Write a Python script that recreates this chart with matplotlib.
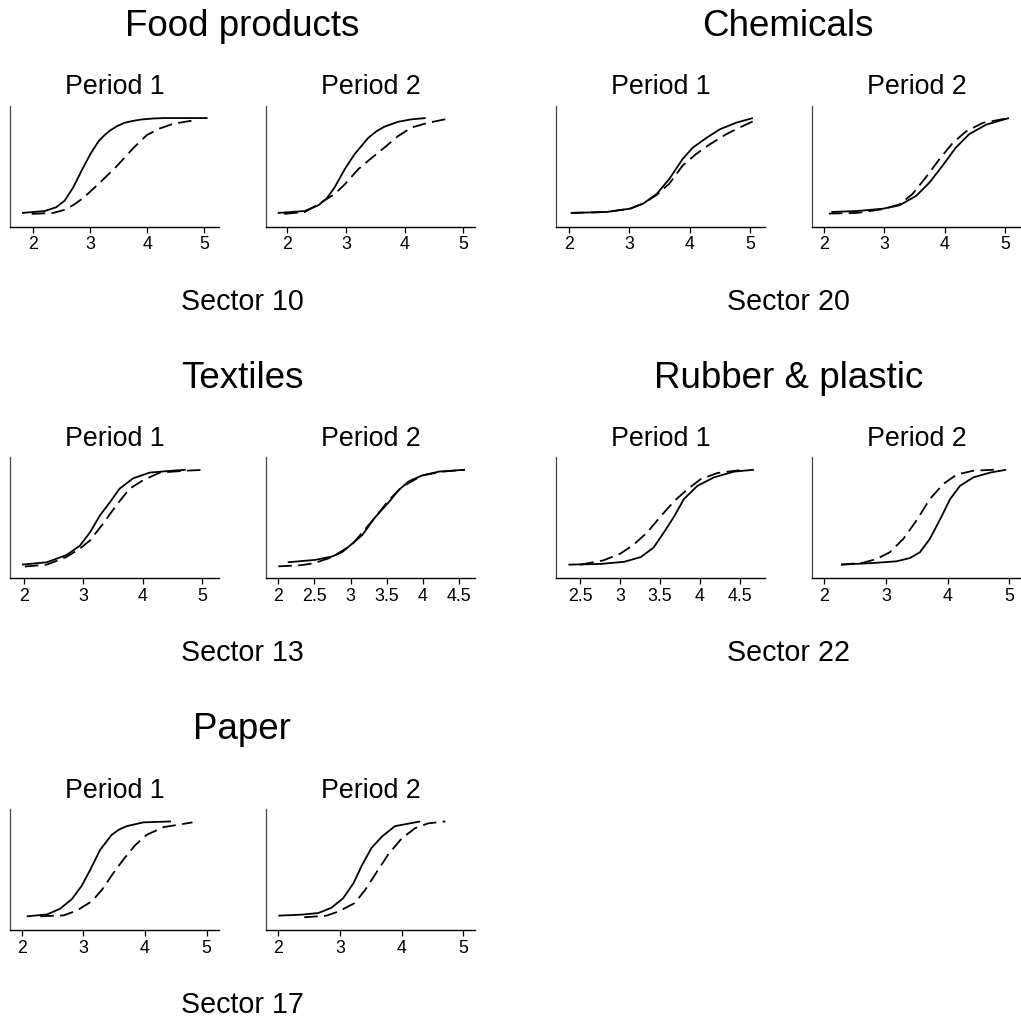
import matplotlib
matplotlib.use("Agg")
import matplotlib.pyplot as plt

plt.rcParams['font.family'] = ['Liberation Sans', 'DejaVu Sans']

W, H = 1021, 1019

# Sector names and codes
sector_titles = ["Food products", "Chemicals", "Textiles", "Rubber & plastic", "Paper"]
sector_codes = ["Sector 10", "Sector 20", "Sector 13", "Sector 22", "Sector 17"]
period_labels = ["Period 1", "Period 2"]

# Cumulative distributions: (x, F(x)) for solid and dashed curves in each period
food_p1_solid_x = [1.80, 2.20, 2.40, 2.55, 2.70, 2.85, 3.00, 3.15, 3.25, 3.35, 3.47, 3.60, 3.75, 3.90, 4.10, 4.30, 5.06]
food_p1_solid_y = [0.00, 0.02, 0.06, 0.13, 0.27, 0.45, 0.62, 0.76, 0.82, 0.87, 0.915, 0.95, 0.97, 0.985, 0.995, 1.00, 1.00]
food_p1_dash_x = [1.97, 2.35, 2.56, 2.72, 2.88, 3.17, 3.46, 3.75, 3.99, 4.22, 4.46, 4.81]
food_p1_dash_y = [-0.01, 0.00, 0.035, 0.09, 0.16, 0.32, 0.49, 0.68, 0.82, 0.89, 0.94, 0.975]
food_p2_solid_x = [1.84, 2.30, 2.53, 2.67, 2.81, 2.98, 3.15, 3.38, 3.52, 3.66, 3.89, 4.10, 4.36]
food_p2_solid_y = [0.00, 0.02, 0.08, 0.15, 0.27, 0.46, 0.62, 0.79, 0.86, 0.91, 0.96, 0.985, 1.00]
food_p2_dash_x = [1.95, 2.30, 2.50, 2.81, 2.98, 3.21, 3.44, 3.66, 3.89, 4.12, 4.40, 4.72]
food_p2_dash_y = [-0.01, 0.01, 0.08, 0.20, 0.30, 0.46, 0.58, 0.69, 0.81, 0.90, 0.95, 0.99]

chem_p1_solid_x = [2.03, 2.62, 3.01, 3.23, 3.45, 3.66, 3.88, 4.05, 4.27, 4.49, 4.76, 5.04]
chem_p1_solid_y = [0.00, 0.01, 0.045, 0.10, 0.20, 0.36, 0.57, 0.69, 0.79, 0.88, 0.95, 1.00]
chem_p1_dash_x = [2.03, 2.62, 3.01, 3.23, 3.45, 3.66, 3.88, 4.10, 4.32, 4.60, 4.82, 5.04]
chem_p1_dash_y = [0.00, 0.01, 0.045, 0.10, 0.19, 0.31, 0.50, 0.62, 0.72, 0.83, 0.90, 0.965]
chem_p2_solid_x = [2.12, 2.54, 2.98, 3.25, 3.53, 3.75, 3.97, 4.19, 4.41, 4.69, 5.07]
chem_p2_solid_y = [0.01, 0.02, 0.045, 0.08, 0.18, 0.32, 0.50, 0.69, 0.83, 0.93, 1.00]
chem_p2_dash_x = [2.08, 2.54, 2.98, 3.25, 3.47, 3.69, 3.92, 4.14, 4.36, 4.64, 5.07]
chem_p2_dash_y = [-0.007, 0.00, 0.04, 0.09, 0.20, 0.375, 0.57, 0.74, 0.86, 0.95, 1.00]

text_p1_solid_x = [1.96, 2.38, 2.71, 2.94, 3.11, 3.28, 3.45, 3.61, 3.84, 4.12, 4.51, 4.73]
text_p1_solid_y = [0.00, 0.025, 0.10, 0.20, 0.34, 0.52, 0.66, 0.80, 0.91, 0.97, 0.99, 1.00]
text_p1_dash_x = [2.01, 2.38, 2.71, 2.94, 3.11, 3.33, 3.56, 3.78, 4.01, 4.29, 4.73, 5.08]
text_p1_dash_y = [-0.02, 0.00, 0.08, 0.17, 0.255, 0.43, 0.63, 0.80, 0.89, 0.97, 0.99, 1.00]
text_p2_solid_x = [2.13, 2.51, 2.74, 2.88, 3.02, 3.16, 3.34, 3.53, 3.67, 3.81, 3.99, 4.22, 4.58]
text_p2_solid_y = [0.025, 0.05, 0.085, 0.13, 0.22, 0.31, 0.50, 0.66, 0.79, 0.88, 0.94, 0.98, 1.00]
text_p2_dash_x = [2.00, 2.30, 2.49, 2.74, 3.02, 3.34, 3.53, 3.71, 3.99, 4.27, 4.58]
text_p2_dash_y = [-0.018, -0.007, 0.014, 0.078, 0.21, 0.50, 0.68, 0.82, 0.94, 0.98, 1.00]

rubb_p1_solid_x = [2.35, 2.75, 3.05, 3.26, 3.42, 3.55, 3.68, 3.80, 3.97, 4.18, 4.43, 4.68]
rubb_p1_solid_y = [0.00, 0.007, 0.03, 0.08, 0.18, 0.34, 0.51, 0.69, 0.83, 0.92, 0.98, 1.00]
rubb_p1_dash_x = [2.50, 2.79, 3.00, 3.17, 3.34, 3.50, 3.68, 3.84, 4.01, 4.22, 4.50]
rubb_p1_dash_y = [0.00, 0.045, 0.115, 0.21, 0.34, 0.50, 0.67, 0.79, 0.90, 0.965, 0.995]
rubb_p2_solid_x = [2.27, 2.79, 3.17, 3.39, 3.55, 3.71, 3.88, 4.04, 4.20, 4.42, 4.69, 4.95]
rubb_p2_solid_y = [0.00, 0.017, 0.035, 0.07, 0.13, 0.27, 0.48, 0.69, 0.83, 0.92, 0.97, 1.00]
rubb_p2_dash_x = [2.27, 2.63, 2.85, 3.06, 3.28, 3.50, 3.71, 3.93, 4.15, 4.42, 4.75]
rubb_p2_dash_y = [0.00, 0.02, 0.06, 0.13, 0.27, 0.47, 0.69, 0.85, 0.95, 0.99, 1.00]

paper_p1_solid_x = [2.08, 2.41, 2.62, 2.81, 2.97, 3.11, 3.27, 3.46, 3.58, 3.70, 3.97, 4.42]
paper_p1_solid_y = [0.00, 0.02, 0.08, 0.18, 0.32, 0.49, 0.70, 0.86, 0.915, 0.95, 0.99, 1.00]
paper_p1_dash_x = [2.30, 2.68, 2.89, 3.14, 3.30, 3.49, 3.65, 3.84, 4.03, 4.30, 4.77]
paper_p1_dash_y = [0.00, 0.01, 0.06, 0.16, 0.28, 0.46, 0.60, 0.75, 0.86, 0.94, 0.99]
paper_p2_solid_x = [2.00, 2.38, 2.65, 2.86, 3.05, 3.22, 3.35, 3.51, 3.68, 3.89, 4.30]
paper_p2_solid_y = [0.007, 0.018, 0.035, 0.09, 0.19, 0.35, 0.53, 0.72, 0.84, 0.95, 1.00]
paper_p2_dash_x = [2.42, 2.78, 2.97, 3.24, 3.41, 3.59, 3.78, 4.00, 4.22, 4.43, 4.71]
paper_p2_dash_y = [-0.01, 0.007, 0.05, 0.14, 0.28, 0.46, 0.65, 0.82, 0.93, 0.98, 1.00]

curves = [
    [((food_p1_solid_x, food_p1_solid_y), (food_p1_dash_x, food_p1_dash_y)),
     ((food_p2_solid_x, food_p2_solid_y), (food_p2_dash_x, food_p2_dash_y))],
    [((chem_p1_solid_x, chem_p1_solid_y), (chem_p1_dash_x, chem_p1_dash_y)),
     ((chem_p2_solid_x, chem_p2_solid_y), (chem_p2_dash_x, chem_p2_dash_y))],
    [((text_p1_solid_x, text_p1_solid_y), (text_p1_dash_x, text_p1_dash_y)),
     ((text_p2_solid_x, text_p2_solid_y), (text_p2_dash_x, text_p2_dash_y))],
    [((rubb_p1_solid_x, rubb_p1_solid_y), (rubb_p1_dash_x, rubb_p1_dash_y)),
     ((rubb_p2_solid_x, rubb_p2_solid_y), (rubb_p2_dash_x, rubb_p2_dash_y))],
    [((paper_p1_solid_x, paper_p1_solid_y), (paper_p1_dash_x, paper_p1_dash_y)),
     ((paper_p2_solid_x, paper_p2_solid_y), (paper_p2_dash_x, paper_p2_dash_y))],
]

# Tick values and x ranges for each panel
ticks = [
    [[2, 3, 4, 5], [2, 3, 4, 5]],
    [[2, 3, 4, 5], [2, 3, 4, 5]],
    [[2, 3, 4, 5], [2, 2.5, 3, 3.5, 4, 4.5]],
    [[2.5, 3, 3.5, 4, 4.5], [2, 3, 4, 5]],
    [[2, 3, 4, 5], [2, 3, 4, 5]],
]
xranges = [
    [(1.58, 5.26), (1.64, 5.20)],
    [(1.78, 5.24), (1.80, 5.27)],
    [(1.75, 5.29), (1.83, 4.72)],
    [(2.19, 4.82), (1.80, 5.19)],
    [(1.80, 5.20), (1.80, 5.19)],
]

# Layout in pixels
block_panels = [[(9.5, 219.0), (266.0, 475.0)], [(555.7, 765.0), (812.0, 1021.0)]]
block_pos = [(0, 0), (1, 0), (0, 1), (1, 1), (0, 2)]
row_step = 351.7
ax_top, ax_bot = 105.7, 226.7

fig = plt.figure(figsize=(W / 100, H / 100), dpi=100)


def fmt(v):
    return f"{v:g}"


for s in range(5):
    col, row = block_pos[s]
    dy = row * row_step
    panels = block_panels[col]
    for p in range(2):
        x0, x1 = panels[p]
        ax = fig.add_axes([x0 / W, 1 - (ax_bot + dy) / H, (x1 - x0) / W, (ax_bot - ax_top) / H])
        (sx, sy), (dx, dyv) = curves[s][p]
        ax.plot(sx, sy, color='black', lw=1.3, solid_capstyle='butt', solid_joinstyle='round')
        ax.plot(dx, dyv, color='black', lw=1.3, linestyle=(0, (7.5, 3.5)), dash_capstyle='butt')
        ax.set_xlim(*xranges[s][p])
        ax.set_ylim(-0.145, 1.13)
        ax.set_xticks(ticks[s][p])
        ax.set_xticklabels([fmt(t) for t in ticks[s][p]])
        ax.set_yticks([])
        for side in ('top', 'right'):
            ax.spines[side].set_visible(False)
        ax.spines['left'].set_linewidth(0.9)
        ax.spines['left'].set_color('#444444')
        ax.spines['bottom'].set_linewidth(1.0)
        ax.tick_params(axis='x', direction='out', length=4.5, width=0.9, pad=2.5,
                       labelsize=12.8, colors='black')
        ax.patch.set_alpha(0)
        cx = (x0 + x1) / 2
        fig.text(cx / W, 1 - (94.3 + dy) / H, period_labels[p], ha='center', va='baseline',
                 fontsize=19.3)
    bx = (panels[0][0] + panels[1][1]) / 2
    fig.text(bx / W, 1 - (36.0 + dy) / H, sector_titles[s], ha='center', va='baseline', fontsize=26.5)
    fig.text(bx / W, 1 - (309.5 + dy) / H, sector_codes[s], ha='center', va='baseline', fontsize=20.6)

fig.savefig("out.png", dpi=100, facecolor='white')
